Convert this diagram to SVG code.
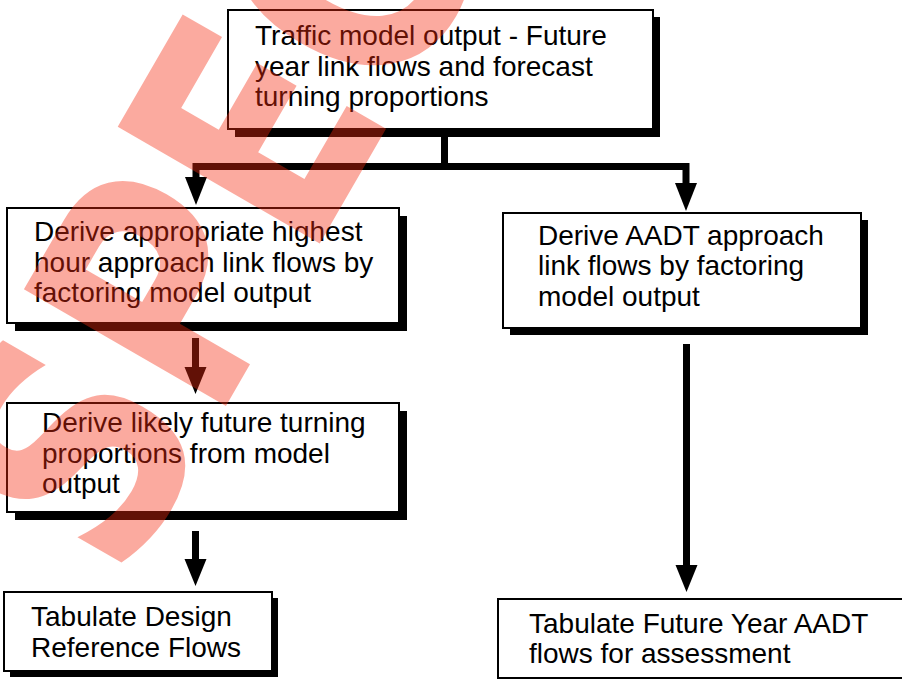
<svg xmlns="http://www.w3.org/2000/svg" width="902" height="679" viewBox="0 0 902 679">
<style>
.box{fill:#fff;stroke:#000;stroke-width:2}
.sh{fill:#000}
.t{font-family:"Liberation Sans",Arial,sans-serif;font-size:28px;fill:#000}
.ln{stroke:#000;stroke-width:7;fill:none}
.ah{fill:#000}
.wm{font-family:"DejaVu Sans",sans-serif;font-weight:bold;font-size:320px;fill:#f42a10;fill-opacity:0.4}
</style>
<rect width="902" height="679" fill="#fff"/>
<g id="top">
<rect class="sh" x="235" y="17" width="425" height="120"/>
<rect class="box" x="228" y="10" width="425" height="119"/>
<text class="t" x="255" y="45">Traffic model output - Future</text>
<text class="t" x="255" y="75.5">year link flows and forecast</text>
<text class="t" x="255" y="106">turning proportions</text>
</g>
<g id="connectors">
<path class="ln" d="M444.5,130 V166.5 H196 V177"/>
<path class="ah" d="M185,177 L207,177 L196,205 Z"/>
<path class="ln" d="M444.5,166.5 H686 V183"/>
<path class="ah" d="M675,183 L697,183 L686,211 Z"/>
<path class="ln" d="M195.5,338 V367"/>
<path class="ah" d="M184.5,367 L206.5,367 L195.5,394 Z"/>
<path class="ln" d="M195.5,531 V559"/>
<path class="ah" d="M184.5,559 L206.5,559 L195.5,586 Z"/>
<path class="ln" d="M686.5,344 V565"/>
<path class="ah" d="M675.5,565 L697.5,565 L686.5,592 Z"/>
</g>
<g id="n1">
<rect class="sh" x="15" y="216" width="392" height="115"/>
<rect class="box" x="7" y="208" width="392" height="115"/>
<text class="t" x="34" y="241">Derive appropriate highest</text>
<text class="t" x="34" y="272">hour approach link flows by</text>
<text class="t" x="34" y="302">factoring model output</text>
</g>
<g id="n2">
<rect class="sh" x="510" y="220" width="358" height="115"/>
<rect class="box" x="503" y="213" width="358" height="115"/>
<text class="t" x="538" y="245">Derive AADT approach</text>
<text class="t" x="538" y="275">link flows by factoring</text>
<text class="t" x="538" y="306">model output</text>
</g>
<g id="n3">
<rect class="sh" x="15" y="411" width="392" height="109"/>
<rect class="box" x="7" y="403" width="392" height="109"/>
<text class="t" x="42" y="432">Derive likely future turning</text>
<text class="t" x="42" y="463">proportions from model</text>
<text class="t" x="42" y="493">output</text>
</g>
<g id="n4">
<rect class="sh" x="10" y="598" width="268" height="79"/>
<rect class="box" x="4" y="592" width="268" height="79"/>
<text class="t" x="31" y="626">Tabulate Design</text>
<text class="t" x="31" y="657">Reference Flows</text>
</g>
<g id="n5">
<rect class="box" x="498" y="599" width="420" height="79"/>
<text class="t" x="529" y="633">Tabulate Future Year AADT</text>
<text class="t" x="529" y="663">flows for assessment</text>
</g>
<g id="watermark">
<text class="wm" transform="translate(122,586) rotate(-60) scale(0.8,1)">SPECIMEN</text>
</g>
</svg>
